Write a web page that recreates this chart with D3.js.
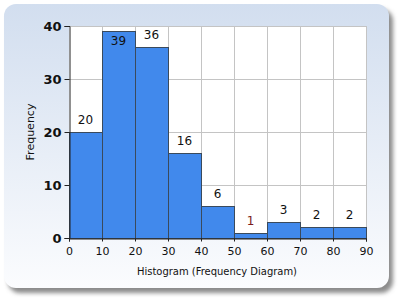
<!DOCTYPE html>
<html>
<head>
<meta charset="utf-8">
<script src="https://cdn.jsdelivr.net/npm/d3@7"></script>
<style>
  body { margin: 0; background: #fff; }
  svg { display: block; font-family: "DejaVu Sans", Verdana, sans-serif; }
</style>
</head>
<body>
<div class="canva"></div>
<script>
// histogram bins and counts
const binStarts = [0, 10, 20, 30, 40, 50, 60, 70, 80];
const binWidth = 10;
const counts = [20, 39, 36, 16, 6, 1, 3, 2, 2];
const xTicks = [0, 10, 20, 30, 40, 50, 60, 70, 80, 90];
const yTicks = [0, 10, 20, 30, 40];
const xTitle = "Histogram (Frequency Diagram)";
const yTitle = "Frequency";

const W = 400, H = 300;
const svg = d3.select(".canva").append("svg")
  .attr("width", W)
  .attr("height", H);

const defs = svg.append("defs");
const grad = defs.append("linearGradient")
  .attr("id", "bg").attr("x1", 0).attr("y1", 0).attr("x2", 0).attr("y2", 1);
grad.append("stop").attr("offset", "0%").attr("stop-color", "#d2deef");
grad.append("stop").attr("offset", "100%").attr("stop-color", "#fbfcfe");

const blur = defs.append("filter").attr("id", "shadow")
  .attr("x", "-10%").attr("y", "-10%").attr("width", "120%").attr("height", "120%");
blur.append("feGaussianBlur").attr("stdDeviation", 2);

// frame shadow + frame
svg.append("rect")
  .attr("x", 8).attr("y", 9).attr("width", 385).attr("height", 284)
  .attr("rx", 12)
  .attr("fill", "#8c8c8c")
  .attr("filter", "url(#shadow)");
svg.append("rect")
  .attr("x", 4).attr("y", 4).attr("width", 385).attr("height", 284)
  .attr("rx", 12)
  .attr("fill", "url(#bg)");

const x = d3.scaleLinear().domain([0, 90]).range([69, 366]);
const y = d3.scaleLinear().domain([0, 40]).range([238, 26]);

// plot background
svg.append("rect")
  .attr("x", x(0)).attr("y", y(40))
  .attr("width", x(90) - x(0)).attr("height", y(0) - y(40))
  .attr("fill", "#fff");

// grid
svg.append("g").selectAll("line.v")
  .data(xTicks.slice(1))
  .enter().append("line")
  .attr("x1", d => Math.round(x(d)) + 0.5).attr("x2", d => Math.round(x(d)) + 0.5)
  .attr("y1", y(40)).attr("y2", y(0))
  .attr("stroke", "#c4c4c4");
svg.append("g").selectAll("line.h")
  .data(yTicks.slice(1))
  .enter().append("line")
  .attr("x1", x(0)).attr("x2", x(90))
  .attr("y1", d => Math.round(y(d)) + 0.5).attr("y2", d => Math.round(y(d)) + 0.5)
  .attr("stroke", "#c4c4c4");

// bars
svg.append("g").selectAll("rect")
  .data(counts)
  .enter().append("rect")
  .attr("x", (d, i) => Math.round(x(binStarts[i])) + 0.5)
  .attr("width", (d, i) => Math.round(x(binStarts[i] + binWidth)) - Math.round(x(binStarts[i])))
  .attr("y", d => Math.round(y(d)) + 0.5)
  .attr("height", d => Math.round(y(0)) - Math.round(y(d)))
  .attr("fill", "#4189ec")
  .attr("stroke", "#3a4a5c")
  .attr("stroke-width", 1);

// value labels (inside the bar when there is no room above)
svg.append("g").selectAll("text")
  .data(counts)
  .enter().append("text")
  .attr("x", (d, i) => x(binStarts[i] + binWidth / 2))
  .attr("y", d => y(d) - 8 < y(40) + 9 ? y(d) + 14 : y(d) - 8)
  .attr("text-anchor", "middle")
  .attr("font-size", 12)
  .attr("fill", d => d === 1 ? "#7a1c1c" : "#111")
  .text(d => d);

// axes
const xAxis = svg.append("g")
  .attr("transform", `translate(0,${Math.round(y(0)) + 0.5})`)
  .call(d3.axisBottom(x).tickValues(xTicks).tickSize(3).tickPadding(6).tickFormat(d3.format("d")));
xAxis.select(".domain").attr("stroke", "#222");
xAxis.selectAll(".tick line").attr("stroke", "#222");
xAxis.selectAll("text").attr("font-size", 11).attr("fill", "#111")
  .attr("font-family", "DejaVu Sans, sans-serif");

const yAxis = svg.append("g")
  .attr("transform", `translate(${Math.round(x(0)) + 0.5},0)`)
  .call(d3.axisLeft(y).tickValues(yTicks).tickSize(5).tickPadding(3).tickFormat(d3.format("d")));
yAxis.select(".domain").attr("stroke", "#222");
yAxis.selectAll(".tick line").attr("stroke", "#222");
yAxis.selectAll("text").attr("font-size", 13).attr("font-weight", "bold").attr("fill", "#111")
  .attr("font-family", "DejaVu Sans, sans-serif");

// axis titles
svg.append("text")
  .attr("x", 217).attr("y", 275)
  .attr("text-anchor", "middle")
  .attr("font-size", 11)
  .attr("textLength", 160)
  .attr("lengthAdjust", "spacingAndGlyphs")
  .attr("fill", "#111")
  .text(xTitle);

svg.append("text")
  .attr("transform", "translate(34,132) rotate(-90)")
  .attr("text-anchor", "middle")
  .attr("font-size", 11)
  .attr("fill", "#111")
  .text(yTitle);
</script>
</body>
</html>
